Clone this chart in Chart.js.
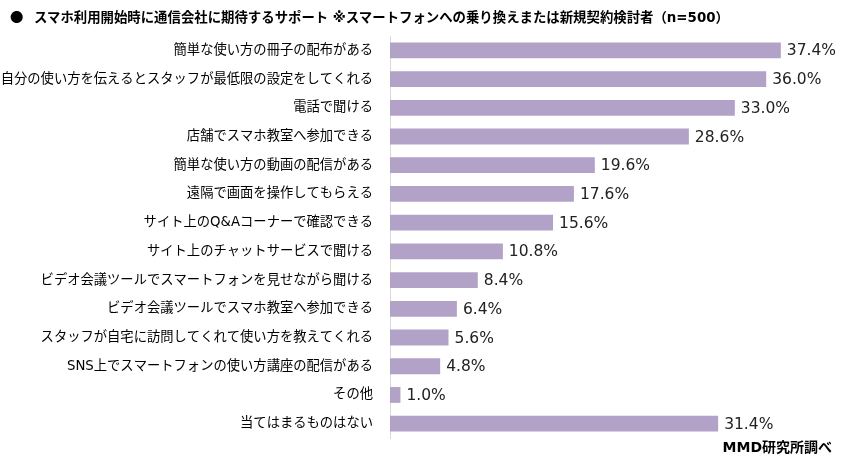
<!DOCTYPE html>
<html>
<head>
<meta charset="utf-8">
<script src="https://cdn.jsdelivr.net/npm/chart.js@4/dist/chart.umd.min.js"></script>
<style>
  body { margin: 0; background: #fff; }
  #wrap { position: relative; width: 843px; height: 463px; }
  #title { position: absolute; left: 10px; top: 6px; font: bold 13.4px "DejaVu Sans", "Noto Sans CJK JP", sans-serif; color: #000; white-space: nowrap; }
  #title .dot { display: inline-block; width: 24px; font-family: "Noto Sans CJK JP", sans-serif; }
  #src { position: absolute; right: 11px; top: 436px; font: bold 14px "DejaVu Sans", "Noto Sans CJK JP", sans-serif; color: #000; }
</style>
</head>
<body>
<div id="wrap">
  <canvas id="c" width="843" height="463"></canvas>
  <div id="title"><span class="dot">●</span>スマホ利用開始時に通信会社に期待するサポート ※スマートフォンへの乗り換えまたは新規契約検討者（n=500）</div>
  <div id="src">MMD研究所調べ</div>
</div>
<script>
// 項目
const categories = [
  "簡単な使い方の冊子の配布がある",
  "自分の使い方を伝えるとスタッフが最低限の設定をしてくれる",
  "電話で聞ける",
  "店舗でスマホ教室へ参加できる",
  "簡単な使い方の動画の配信がある",
  "遠隔で画面を操作してもらえる",
  "サイト上のQ&Aコーナーで確認できる",
  "サイト上のチャットサービスで聞ける",
  "ビデオ会議ツールでスマートフォンを見せながら聞ける",
  "ビデオ会議ツールでスマホ教室へ参加できる",
  "スタッフが自宅に訪問してくれて使い方を教えてくれる",
  "SNS上でスマートフォンの使い方講座の配信がある",
  "その他",
  "当てはまるものはない"
];

// 割合 (%)
const values = [37.4, 36.0, 33.0, 28.6, 19.6, 17.6, 15.6, 10.8, 8.4, 6.4, 5.6, 4.8, 1.0, 31.4];

const valueLabels = {
  id: "valueLabels",
  afterDatasetsDraw(chart) {
    const ctx = chart.ctx;
    const meta = chart.getDatasetMeta(0);
    ctx.save();
    ctx.font = '15.5px "DejaVu Sans", sans-serif';
    ctx.fillStyle = "#222";
    ctx.textAlign = "left";
    ctx.textBaseline = "middle";
    meta.data.forEach((bar, i) => {
      ctx.fillText(values[i].toFixed(1) + "%", bar.x + 6, bar.y + 1);
    });
    ctx.restore();
  }
};

new Chart(document.getElementById("c"), {
  type: "bar",
  data: {
    labels: categories,
    datasets: [{
      data: values,
      backgroundColor: "#b3a2c7",
      barPercentage: 0.55,
      categoryPercentage: 1
    }]
  },
  options: {
    indexAxis: "y",
    responsive: false,
    animation: false,
    layout: { padding: { top: 36, bottom: 21, right: 35, left: 0 } },
    plugins: { legend: { display: false }, tooltip: { enabled: false } },
    scales: {
      x: {
        min: 0, max: 40,
        display: false
      },
      y: {
        grid: { display: false, drawTicks: false },
        border: { display: true, color: "#d9d9d9", width: 1 },
        ticks: {
          color: "#000",
          padding: 17,
          font: { family: '"DejaVu Sans", "Noto Sans CJK JP", sans-serif', size: 13.3 }
        },
        afterFit(scale) { scale.width = 390; }
      }
    }
  },
  plugins: [valueLabels]
});
</script>
</body>
</html>
